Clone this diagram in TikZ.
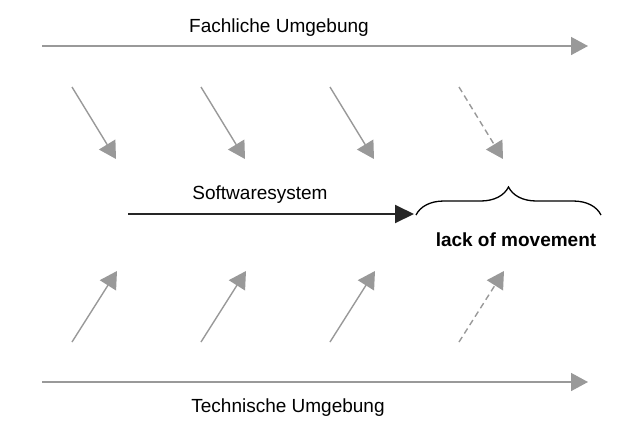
\documentclass[tikz,border=0pt]{standalone}
\usepackage{fontspec}
\setmainfont{Liberation Sans}
\usetikzlibrary{arrows.meta,decorations.pathreplacing}

\begin{document}
\begin{tikzpicture}[x=1pt, y=-1pt,
    env arrow/.style={draw=black!40, line width=1.5pt, -{Triangle[length=17pt,width=18pt]}},
    force arrow/.style={draw=black!40, line width=1.4pt, -{Triangle[length=17pt,width=19pt]}},
    weak/.style={dash pattern=on 6pt off 4pt},
    soft arrow/.style={draw=black!85, line width=2pt, -{Triangle[length=19pt,width=18pt]}},
    label text/.style={font=\fontsize{19}{22}\selectfont, anchor=base, inner sep=0pt}]
  \useasboundingbox (0,0) rectangle (633,432);

  % environment arrows
  \coordinate (fs) at (42,46);
  \coordinate (fe) at (588,46);
  \coordinate (ts) at (42,382);
  \coordinate (te) at (588,382);
  \path[env arrow] (fs) -- (fe);
  \path[env arrow] (ts) -- (te);
  \node[label text] (fach) at (279,32) {Fachliche Umgebung};
  \node[label text] (tech) at (288,412) {Technische Umgebung};

  % forces from above
  \coordinate (a1) at (72,87);   \coordinate (b1) at (116,159);
  \coordinate (a2) at (201,87);  \coordinate (b2) at (245,159);
  \coordinate (a3) at (330,87);  \coordinate (b3) at (374,159);
  \coordinate (a4) at (459,87);  \coordinate (b4) at (503,159);
  \path[force arrow] (a1) -- (b1);
  \path[force arrow] (a2) -- (b2);
  \path[force arrow] (a3) -- (b3);
  \path[force arrow, weak] (a4) -- (b4);

  % forces from below
  \coordinate (c1) at (72,342);  \coordinate (d1) at (117,271);
  \coordinate (c2) at (201,342); \coordinate (d2) at (246,271);
  \coordinate (c3) at (330,342); \coordinate (d3) at (375,271);
  \coordinate (c4) at (459,342); \coordinate (d4) at (504,271);
  \path[force arrow] (c1) -- (d1);
  \path[force arrow] (c2) -- (d2);
  \path[force arrow] (c3) -- (d3);
  \path[force arrow, weak] (c4) -- (d4);

  % software system
  \coordinate (ss) at (128,214);
  \coordinate (se) at (414,214);
  \path[soft arrow] (ss) -- (se);
  \node[label text] (soft) at (260,199) {Softwaresystem};

  % gap
  \coordinate (gl) at (416,215);
  \coordinate (gr) at (601,215);
  \draw[line width=1.3pt, decorate, decoration={brace, amplitude=28pt, aspect=0.5}] (gl) -- (gr);
  \node[label text, font=\fontsize{19}{22}\selectfont\bfseries] (lack) at (516,246) {lack of movement};
\end{tikzpicture}
\end{document}
